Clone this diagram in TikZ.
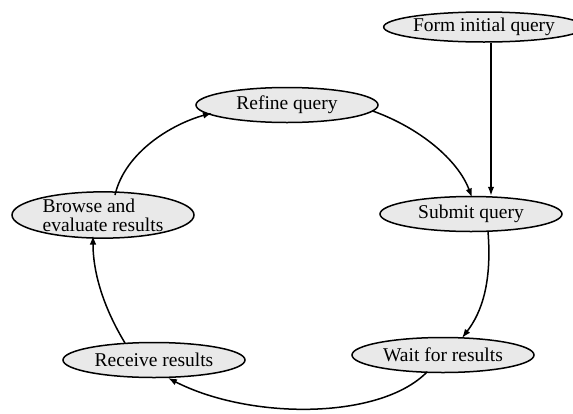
\documentclass[tikz,border=0pt]{standalone}
\usepackage{fontspec}
\setmainfont{Liberation Serif}
\usetikzlibrary{shapes.geometric,arrows.meta}
\begin{document}
\begin{tikzpicture}[x=1pt,y=-1pt,
  state/.style={ellipse,draw,line width=1.5pt,fill=gray!17,inner sep=0pt,
    minimum width=182pt,minimum height=35pt,font=\fontsize{19.5}{20}\selectfont},
  arr/.style={line width=1.5pt,-{Latex[length=9pt,width=6.5pt]}}]
\useasboundingbox (0,0) rectangle (573,413);
\node[state,minimum width=164pt,minimum height=30pt] (form) at (484,27) {Form initial query};
\node[state] (refine) at (287,105) {Refine query};
\node[state,minimum height=40pt,align=left,font=\fontsize{19.5}{19}\selectfont] (browse) at (103,215) {Browse and\\evaluate results};
\node[state] (submit) at (471,214) {Submit query};
\node[state] (receive) at (154,360) {Receive results};
\node[state] (wait) at (443,355) {Wait for results};
% initial query feeds straight into submission
\draw[arr] ([xshift=7pt]form.south) -- ([xshift=7pt]form.south |- submit.north);
% the search cycle
\draw[arr] (refine.east) ++(-6,6) .. controls (420,128) and (458,160) .. (472,197.5);
\draw[arr] (488,231.5) .. controls (492,282) and (482,312) .. (462,338);
\draw[arr] (427,372) .. controls (380,420) and (250,420) .. (168,378);
\draw[arr] (125,343) .. controls (105,310) and (93,275) .. (93,235.5);
\draw[arr] (115,195) .. controls (125,152) and (172,124) .. (212,113);
\end{tikzpicture}
\end{document}
